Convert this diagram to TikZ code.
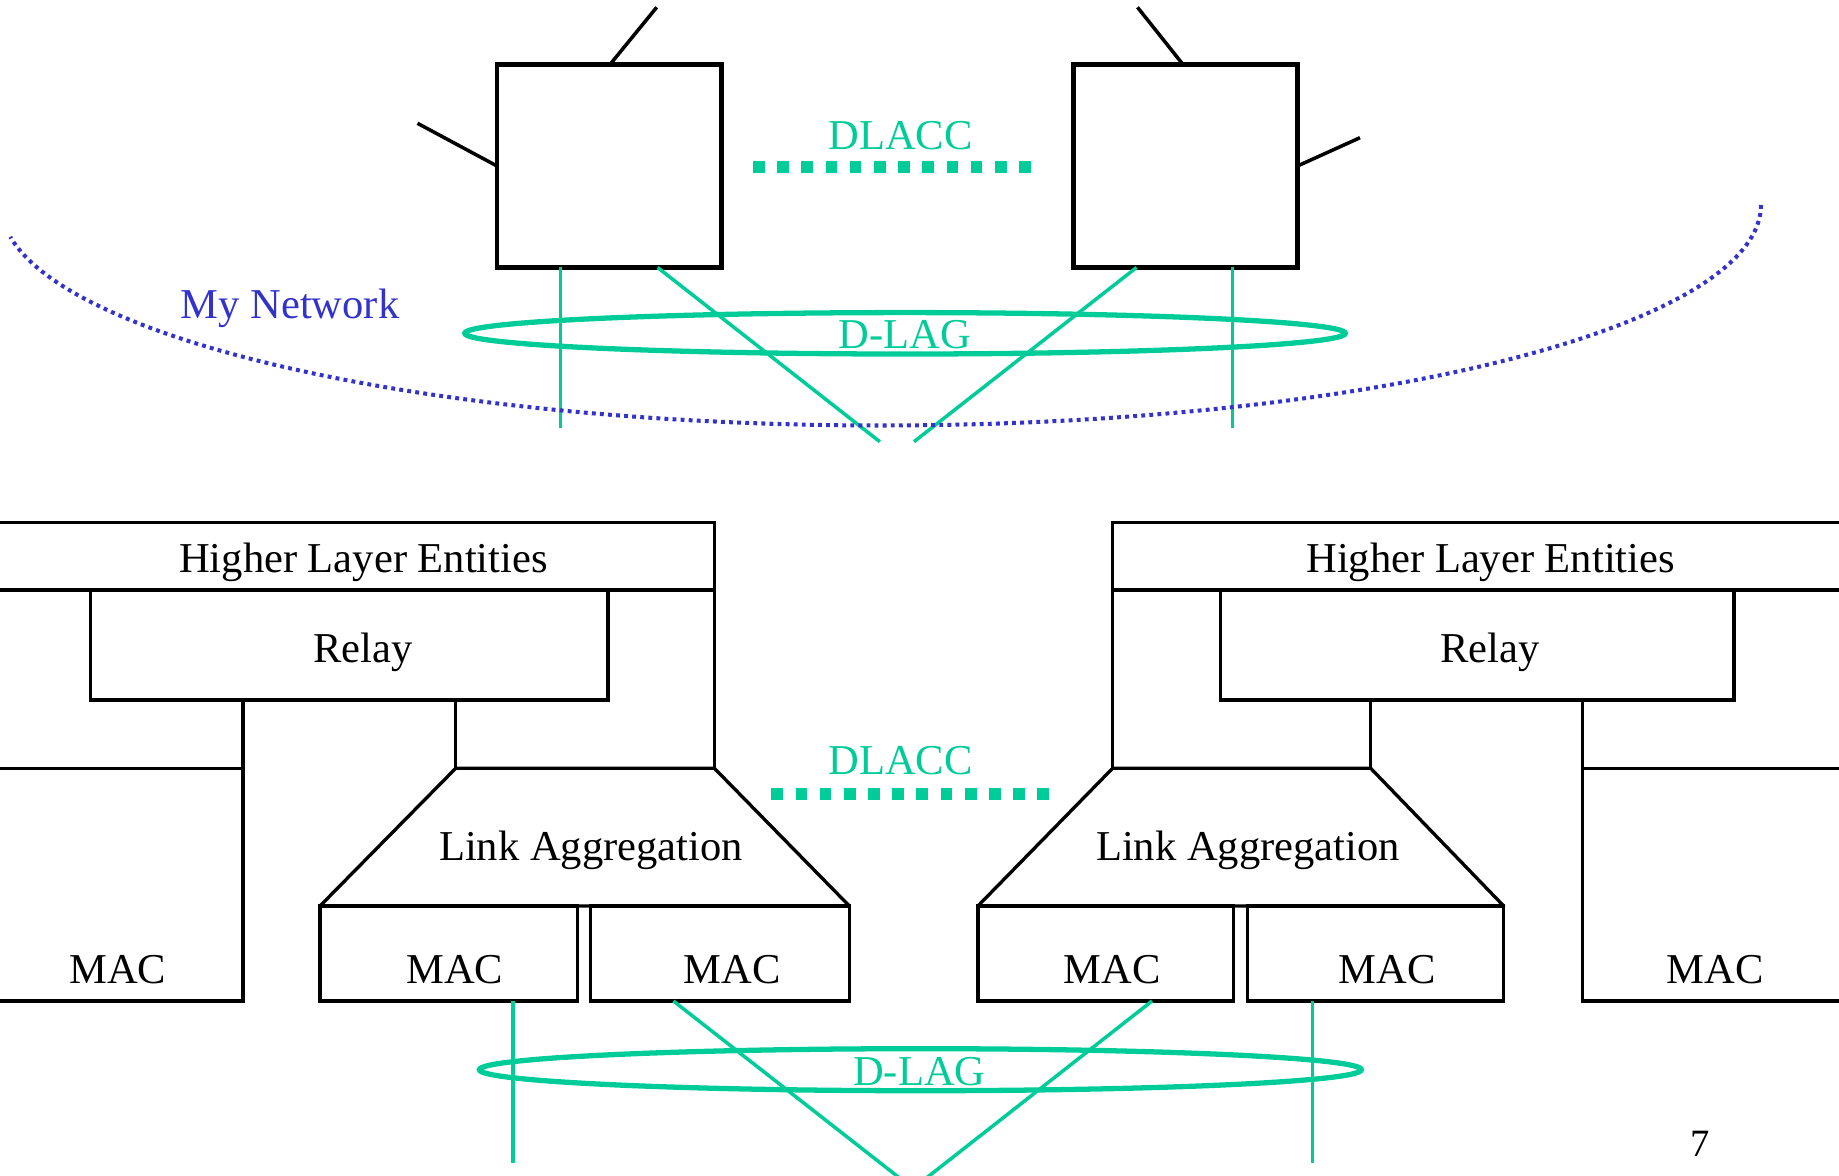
\documentclass[tikz,border=0pt]{standalone}
\usepackage{fontspec}
\setmainfont{Liberation Serif}
\usetikzlibrary{shapes.geometric,fit}
\definecolor{lagreen}{RGB}{0,204,153}
\definecolor{netblue}{RGB}{51,51,204}
\begin{document}
\begin{tikzpicture}[x=0.01cm,y=-0.01cm,
  txt/.style={font=\fontsize{12.1}{14.5}\selectfont, inner sep=0pt, anchor=base},
  devbox/.style={draw=black, line width=1.35pt, inner sep=0pt, outer sep=0pt},
  layer/.style={draw=black, line width=0.95pt, inner sep=0pt, outer sep=0pt},
  wire/.style={draw=black, line width=1pt},
  layline/.style={draw=black, line width=0.95pt},
  glink/.style={draw=lagreen, line width=1pt},
  lagring/.style={draw=lagreen, line width=1.5pt, ellipse, inner sep=0pt},
  dlacc/.style={draw=lagreen, line width=3.33pt, dash pattern=on 3.33pt off 3.55pt},
  netline/.style={draw=netblue, line width=1.15pt, dash pattern=on 1.1pt off 1.2pt},
]
\path[use as bounding box] (0,0) rectangle (1839,1176);
\clip (0,0) rectangle (1839,1176);

% ---------- top: two devices ----------
\node[devbox, fit={(497,64.5) (721.5,267.5)}] (devL) {};
\node[devbox, fit={(1073.3,64.5) (1297.5,267.5)}] (devR) {};

\coordinate (aLbase) at (610,64.5);
\coordinate (aLtop) at (656.7,7.3);
\coordinate (aLside) at (417.5,123.3);
\coordinate (aRbase) at (1183,64.5);
\coordinate (aRtop) at (1137.5,7.3);
\coordinate (aRside) at (1360,137.7);
\draw[wire] (aLbase) -- (aLtop);
\draw[wire] (devL.west) -- (aLside);
\draw[wire] (aRbase) -- (aRtop);
\draw[wire] (devR.east) -- (aRside);

% DLACC (top)
\coordinate (dcT1) at (753,167);
\coordinate (dcT2) at (1032.4,167);
\draw[dlacc] (dcT1) -- (dcT2);
\node[txt, text=lagreen] (dlaccT) at (900.5,150) {DLACC};

% D-LAG (top)
\node[lagring, minimum width=8.8cm, minimum height=0.414cm] (lagT) at (905,333.3) {};
\node[txt, text=lagreen] (dlagT) at (904.8,348.3) {D-LAG};

\coordinate (gT1s) at (560.7,267.5);  \coordinate (gT1e) at (560.7,427.7);
\coordinate (gT2s) at (657.6,267.5);  \coordinate (gT2e) at (879.8,441.7);
\coordinate (gT3s) at (1136.5,267.5); \coordinate (gT3e) at (914,441.7);
\coordinate (gT4s) at (1232.7,267.5); \coordinate (gT4e) at (1232.7,427.7);
\draw[glink] (gT1s) -- (gT1e);
\draw[glink] (gT2s) -- (gT2e);
\draw[glink] (gT3s) -- (gT3e);
\draw[glink] (gT4s) -- (gT4e);

% My Network boundary
\draw[netline] plot[domain=0:171.7, samples=150] ({881+880*cos(\x)},{205+220.5*sin(\x)});
\node[txt, text=netblue] (mynet) at (290,318.3) {My Network};

% ---------- bottom left station ----------
\node[layer, fit={(-10,522.3) (714.4,590)}] (hleL) {};
\node[layer, fit={(90.8,590) (608,700)}] (relayL) {};
\node[layer, fit={(-10,768.3) (243,1001)}] (macL0) {};
\coordinate (rL1) at (243,700);
\coordinate (rL2) at (455.7,700);
\coordinate (laLtl) at (455.7,768.3);
\coordinate (laLtr) at (714.4,768.3);
\coordinate (laLbr) at (849.4,906);
\coordinate (laLbl) at (320,906);
\draw[layline] (rL1) -- (macL0.north east);
\draw[layline] (rL2) -- (laLtl);
\draw[layline] (hleL.south east) -- (laLtr);
\draw[layline, line join=round] (laLtl) -- (laLtr) -- (laLbr) -- (laLbl) -- cycle;
\node[layer, fit={(320,906) (577.6,1001)}] (macL1) {};
\node[layer, fit={(590.8,906) (849.4,1001)}] (macL2) {};

\node[txt] (hleLt) at (363.5,572.7) {Higher Layer Entities};
\node[txt] (relayLt) at (362.9,662.7) {Relay};
\node[txt] (laLt) at (591,860.7) {Link Aggregation};
\node[txt] (macL0t) at (117.8,983.3) {MAC};
\node[txt] (macL1t) at (454.7,983.3) {MAC};
\node[txt] (macL2t) at (732,983.3) {MAC};

% ---------- bottom right station ----------
\node[layer, fit={(1112.6,522.3) (1850,590)}] (hleR) {};
\node[layer, fit={(1220.4,590) (1734,700)}] (relayR) {};
\node[layer, fit={(1582.7,768.3) (1850,1001)}] (macR0) {};
\coordinate (rR1) at (1370.7,700);
\coordinate (rR2) at (1582.7,700);
\coordinate (laRtl) at (1112.6,768.3);
\coordinate (laRtr) at (1370.7,768.3);
\coordinate (laRbr) at (1503.7,906);
\coordinate (laRbl) at (977.9,906);
\draw[layline] (rR2) -- (macR0.north west);
\draw[layline] (rR1) -- (laRtr);
\draw[layline] (hleR.south west) -- (laRtl);
\draw[layline, line join=round] (laRtl) -- (laRtr) -- (laRbr) -- (laRbl) -- cycle;
\node[layer, fit={(977.9,906) (1233.6,1001)}] (macR1) {};
\node[layer, fit={(1247.4,906) (1503.7,1001)}] (macR2) {};

\node[txt] (hleRt) at (1490.6,572.7) {Higher Layer Entities};
\node[txt] (relayRt) at (1490,662.7) {Relay};
\node[txt] (laRt) at (1248,860.7) {Link Aggregation};
\node[txt] (macR1t) at (1112,983.3) {MAC};
\node[txt] (macR2t) at (1387.4,983.3) {MAC};
\node[txt] (macR0t) at (1715.4,983.3) {MAC};

% DLACC (bottom)
\coordinate (dcB1) at (771.3,794);
\coordinate (dcB2) at (1048.5,794);
\draw[dlacc] (dcB1) -- (dcB2);
\node[txt, text=lagreen] (dlaccB) at (900.5,774) {DLACC};

% D-LAG (bottom)
\node[lagring, minimum width=8.814cm, minimum height=0.42cm] (lagB) at (920.4,1069.7) {};
\node[txt, text=lagreen] (dlagB) at (919.4,1085) {D-LAG};

\coordinate (gB1s) at (512.8,1001);  \coordinate (gB1e) at (512.8,1162.7);
\coordinate (gB2s) at (673.4,1001);  \coordinate (gB2e) at (914.9,1190);
\coordinate (gB3s) at (1152,1001);   \coordinate (gB3e) at (911.1,1190);
\coordinate (gB4s) at (1312.7,1001); \coordinate (gB4e) at (1312.7,1162.7);
\draw[glink] (gB1s) -- (gB1e);
\draw[glink] (gB2s) -- (gB2e);
\draw[glink] (gB3s) -- (gB3e);
\draw[glink] (gB4s) -- (gB4e);

% page number
\node[inner sep=0pt, anchor=base, font=\fontsize{11}{13}\selectfont] (pgno) at (1700,1156) {7};
\end{tikzpicture}
\end{document}
